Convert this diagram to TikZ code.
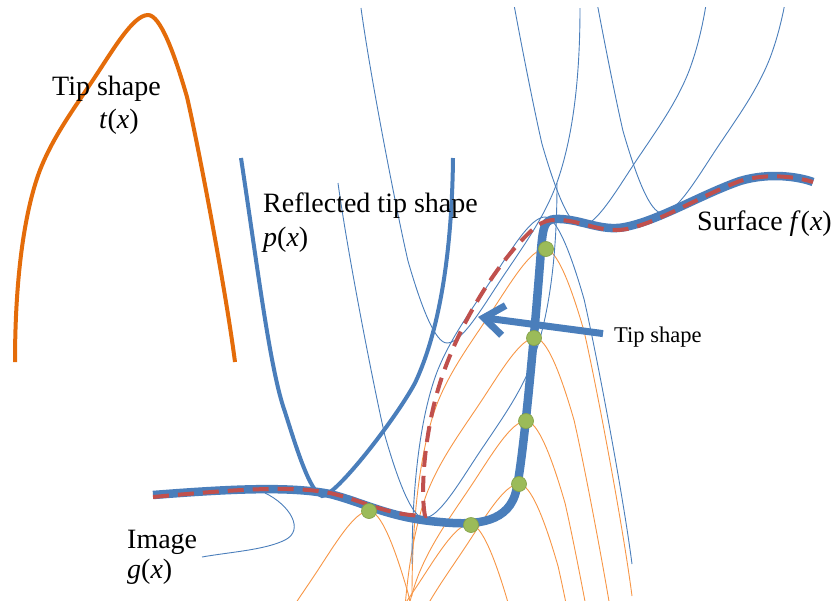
\documentclass[tikz,border=0pt]{standalone}
\usepackage{fontspec}
\setmainfont{Liberation Serif}
\usetikzlibrary{arrows.meta}
\definecolor{sblue}{HTML}{4A7EBB}
\definecolor{tiporange}{HTML}{E46C0A}
\definecolor{thinorange}{HTML}{F79646}
\definecolor{imgred}{HTML}{C0504D}
\definecolor{dotgreen}{HTML}{9BBB59}
\definecolor{dotedge}{HTML}{86A34A}
\begin{document}
\begin{tikzpicture}[x=1pt,y=-1pt,
  lbl/.style={font=\fontsize{28}{32}\selectfont, inner sep=0pt, anchor=base west},
  smalllbl/.style={font=\fontsize{22.5}{26}\selectfont, inner sep=0pt, anchor=base west},
  thinblue/.style={draw=sblue, line width=0.9pt},
  gdot/.style={circle, fill=dotgreen, draw=dotedge, line width=0.7pt, minimum size=15pt, inner sep=0pt},
  tipcurve/.pic={\draw[pic actions] (-133,347) .. controls (-133,270) and (-125,200) .. (-108,155) .. controls (-95,122) and (-75,95) .. (-55,65) .. controls (-35,35) and (-15,0) .. (0,0) .. controls (12,0) and (26,37) .. (39,82) .. controls (49,125) and (77,270) .. (87,347);},
  refltip/.pic={\draw[pic actions] (133,-335) .. controls (133,-260) and (125,-200) .. (108,-155) .. controls (95,-122) and (75,-95) .. (55,-65) .. controls (35,-35) and (15,0) .. (0,0) .. controls (-12,0) and (-26,-37) .. (-39,-82) .. controls (-49,-125) and (-76,-262) .. (-86,-335);},
]
\useasboundingbox (0,0) rectangle (833,600);

% thin construction curves
\begin{scope}
\clip (0,7) rectangle (833,600);
% thin orange tip copies at the contact points
\pic[draw=thinorange, line width=0.9pt] at (545,249) {tipcurve};
\pic[draw=thinorange, line width=0.9pt] at (535,338) {tipcurve};
\pic[draw=thinorange, line width=0.9pt] at (526,421) {tipcurve};
\pic[draw=thinorange, line width=0.9pt] at (519,484) {tipcurve};
\pic[draw=thinorange, line width=0.9pt] at (470,524) {tipcurve};
\pic[draw=thinorange, line width=0.9pt] at (369,511) {tipcurve};
% thin blue tip copy at the step corner
\pic[draw=sblue, line width=0.9pt] at (545,217) {tipcurve};
% thin blue reflected tip copies
\pic[draw=sblue, line width=0.9pt] at (447,343) {refltip};
\pic[draw=sblue, line width=0.9pt] at (424,518) {refltip};
\pic[draw=sblue, line width=0.9pt] at (581,226) {refltip};
\pic[draw=sblue, line width=0.9pt] at (662,213) {refltip};
\end{scope}

% main tip shape t(x)
\pic[draw=tiporange, line width=4pt] at (148,15) {tipcurve};

% reflected tip shape p(x)
\draw[sblue, line width=4pt] (241,158) .. controls (258,270) and (270,370) .. (285,412) .. controls (297,450) and (310,492) .. (322,496) .. controls (335,497) and (395,420) .. (415,383) .. controls (440,330) and (452,250) .. (453,158);

% image callout line
\draw[thinblue] (265,493) .. controls (290,505) and (305,530) .. (285,540) .. controls (265,550) and (230,552) .. (202,557);

% surface f(x)
\draw[sblue, line width=8.5pt] (153,495) .. controls (230,489) and (290,486) .. (330,494) .. controls (365,503) and (390,518) .. (440,522) .. controls (470,525) and (505,525) .. (515,495) .. controls (522,475) and (535,330) .. (541,250) .. controls (543,225) and (545,220) .. (555,219) .. controls (580,218) and (600,232) .. (625,227) .. controls (660,220) and (700,195) .. (740,181) .. controls (770,172) and (800,177) .. (813,182);

% image g(x), dashed
\draw[imgred, line width=4pt, dash pattern=on 16pt off 9pt] (153,497) .. controls (230,490) and (290,485) .. (330,493) .. controls (365,501) and (385,515) .. (425,516) .. controls (420,490) and (425,430) .. (440,383) .. controls (460,320) and (500,260) .. (530,232) .. controls (538,224) and (545,220) .. (555,220) .. controls (580,219) and (600,234) .. (627,229) .. controls (660,222) and (700,196) .. (740,181) .. controls (770,172) and (800,178) .. (813,182);

% contact points
\node[gdot] (d1) at (546,249) {};
\node[gdot] (d2) at (534,338) {};
\node[gdot] (d3) at (526,421) {};
\node[gdot] (d4) at (519,484) {};
\node[gdot] (d5) at (471,525) {};
\node[gdot] (d6) at (369,511) {};

% labels
\node[lbl] (tiplbl) at (52,95) {Tip shape};
\node[lbl] (tfx) at (99,128) {\textit{t}(\textit{x})};
\node[lbl] (refllbl) at (263,212) {Reflected tip shape};
\node[lbl] (pfx) at (263,246) {\textit{p}(\textit{x})};
\node[lbl] (surflbl) at (697,230) {Surface \textit{f}(\textit{x})};
\node[lbl] (imglbl) at (127,548) {Image};
\node[lbl] (gfx) at (127,578) {\textit{g}(\textit{x})};
\node[smalllbl] (tipsmall) at (614,342) {Tip shape};

% arrow
\coordinate (arrowstart) at ([xshift=-11pt,yshift=3pt]tipsmall.west);
\coordinate (arrowtip) at (478,317);
\draw[sblue, line width=7pt, -{Straight Barb[length=20pt,width=30pt]}] (arrowstart) -- (arrowtip);
\end{tikzpicture}
\end{document}
